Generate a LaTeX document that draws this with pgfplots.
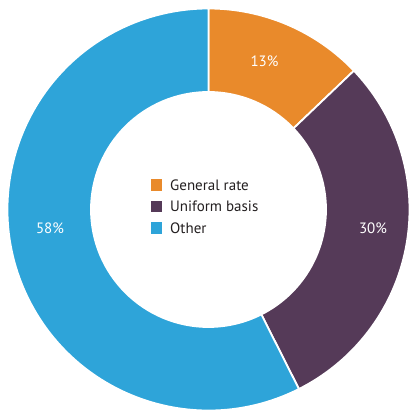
\documentclass[border=0pt]{standalone}
\usepackage{pgfplots}
\usepackage{pgfplotstable}
\pgfplotsset{compat=1.18}
\usepackage{fontspec}
\setmainfont{PT Sans}
\definecolor{cOrange}{HTML}{E98A2B}
\definecolor{cPurple}{HTML}{553A58}
\definecolor{cBlue}{HTML}{2EA4D9}
\definecolor{cText}{HTML}{231F20}

\pgfplotstableread[col sep=comma]{
label,value
General rate,13
Uniform basis,30
Other,58
}\piedata

\newcommand\ringwedge[3]{%
  \fill[#3, draw=white, line width=1.8pt]
    (axis cs:{201*cos(#1)},{201*sin(#1)})
    arc[start angle=#1, end angle=#2, radius=201pt]
    -- (axis cs:{117.5*cos(#2)},{117.5*sin(#2)})
    arc[start angle=#2, end angle=#1, radius=117.5pt] -- cycle;}

\begin{document}
\begin{tikzpicture}
\pgfplotstablegetelem{0}{value}\of\piedata \pgfmathsetmacro\vA{\pgfplotsretval}
\pgfplotstablegetelem{1}{value}\of\piedata \pgfmathsetmacro\vB{\pgfplotsretval}
\pgfplotstablegetelem{2}{value}\of\piedata \pgfmathsetmacro\vC{\pgfplotsretval}
\pgfmathsetmacro\tot{\vA+\vB+\vC}
\pgfmathsetmacro\aA{90}
\pgfmathsetmacro\aB{\aA-360*(\vA/\tot)}
\pgfmathsetmacro\aC{\aB-360*(\vB/\tot)}
\pgfmathsetmacro\aD{\aC-360*(\vC/\tot)}
\begin{axis}[
  width=410pt, height=414pt, scale only axis,
  xmin=-208.5, xmax=201.5, ymin=-204.5, ymax=209.5,
  hide axis, clip=false,
  /pgf/number format/assume math mode=true,
  legend image code/.code={\fill[#1, draw=none] (0pt,-0.5pt) rectangle (11.5pt,11pt);
     \path[draw=none, fill=none] (11.5pt,0pt) -- (19.3pt,0pt);},
  legend style={at={(axis cs:-57.8,30.2)}, anchor=north west, draw=none, fill=none,
    font=\fontsize{15}{18}\selectfont\color{cText}, row sep=7.5pt,
    inner sep=0pt, column sep=0pt,
    nodes={inner sep=0pt, text height=11pt, text depth=3pt},
    cells={anchor=base west}},
]
\ringwedge{\aA}{\aB}{cOrange}
\ringwedge{\aB}{\aC}{cPurple}
\ringwedge{\aC}{\aD}{cBlue}
\addlegendimage{fill=cOrange, draw=none}
\addlegendentry{General rate}
\addlegendimage{fill=cPurple, draw=none}
\addlegendentry{Uniform basis}
\addlegendimage{fill=cBlue, draw=none}
\addlegendentry{Other}
\node[white, font=\fontsize{15}{18}\selectfont] at (axis cs:56,148.5) {\pgfmathprintnumber{\vA}\%};
\node[white, font=\fontsize{15}{18}\selectfont] at (axis cs:164.5,-18.5) {\pgfmathprintnumber{\vB}\%};
\node[white, font=\fontsize{15}{18}\selectfont] at (axis cs:-158.5,-18.5) {\pgfmathprintnumber{\vC}\%};
\end{axis}
\pgfresetboundingbox
\path[use as bounding box] (current axis.south west) rectangle (current axis.north east);
\end{tikzpicture}
\end{document}
